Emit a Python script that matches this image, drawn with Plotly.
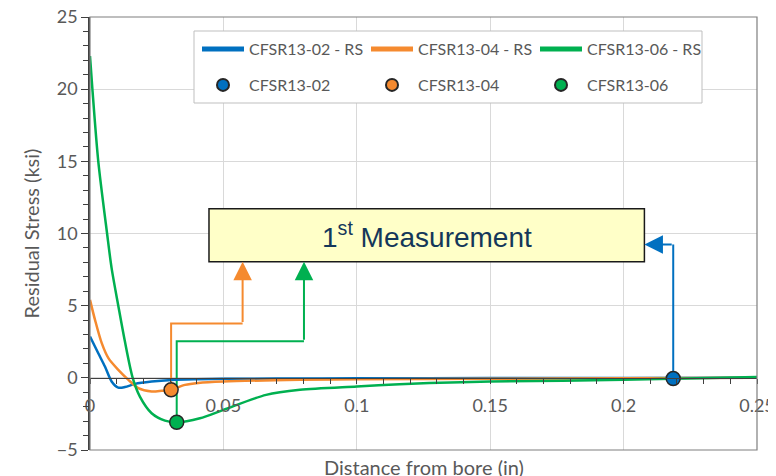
"""Residual stress vs distance from bore - CFSR13 specimens."""

import plotly.graph_objects as go

BLUE = "#0070C0"
ORANGE = "#F58A2F"
GREEN = "#00B050"
GRAY_TXT = "#595959"
FONT = "Lato, 'Open Sans', sans-serif"

# residual stress curves (in, ksi)
rs02_x = [0, 0.0031, 0.0056, 0.0081, 0.0106, 0.0131, 0.0169, 0.0231, 0.0306, 0.04, 0.05, 0.07, 0.1, 0.15, 0.2, 0.25]
rs02_y = [2.86, 1.7, 0.78, -0.25, -0.68, -0.64, -0.42, -0.26, -0.15, -0.1, -0.07, -0.05, -0.03, -0.02, -0.01, 0.0]

rs04_x = [0, 0.0019, 0.0044, 0.0069, 0.0106, 0.0144, 0.0181, 0.0231, 0.0269, 0.0304, 0.0356, 0.0406,
          0.05, 0.0787, 0.1, 0.15, 0.2, 0.25]
rs04_y = [5.4, 4.0, 2.4, 1.36, 0.55, -0.14, -0.71, -0.95, -0.9, -0.83, -0.49, -0.35,
          -0.25, -0.14, -0.1, -0.06, -0.03, 0.0]

rs06_x = [0, 0.0009, 0.0031, 0.0064, 0.0081, 0.0106, 0.013, 0.016, 0.0187, 0.0231, 0.0281, 0.0325,
          0.0412, 0.05, 0.066, 0.0787, 0.1, 0.116, 0.139, 0.15, 0.2, 0.25]
rs06_y = [22.3, 20, 15, 10, 7.6, 5, 2.6, 0, -1.3, -2.45, -2.96, -3.08,
          -2.8, -2.22, -1.18, -0.83, -0.6, -0.44, -0.3, -0.26, -0.14, 0.05]

# first measurement points
meas_names = ["CFSR13-02", "CFSR13-04", "CFSR13-06"]
meas_x = [0.2186, 0.0304, 0.0325]
meas_y = [-0.05, -0.83, -3.08]
colors = [BLUE, ORANGE, GREEN]

# callout box + connector elbows (data coords)
box = dict(x0=0.0446, x1=0.2078, y0=8.04, y1=11.71)
elbow_y = [9.24, 3.76, 2.54]
elbow_x = [None, 0.0572, 0.0802]

fig = go.Figure()

for name, xs, ys, c in [
    ("CFSR13-02 - RS", rs02_x, rs02_y, BLUE),
    ("CFSR13-04 - RS", rs04_x, rs04_y, ORANGE),
    ("CFSR13-06 - RS", rs06_x, rs06_y, GREEN),
]:
    fig.add_trace(go.Scatter(
        x=xs, y=ys, name=name, mode="lines",
        line=dict(color=c, width=2.5, shape="spline", smoothing=0.8),
        legend="legend",
    ))

for i in range(3):
    fig.add_trace(go.Scatter(
        x=[meas_x[i]], y=[meas_y[i]], name=meas_names[i], mode="markers",
        marker=dict(color=colors[i], size=14, line=dict(color="#262626", width=1.5)),
        legend="legend2",
    ))

# connectors
shapes = []
annotations = []
for i in range(3):
    mx, my, c = meas_x[i], meas_y[i], colors[i]
    if elbow_x[i] is None:
        path = f"M {mx},{my} L {mx},{elbow_y[i]}"
        tip = (box["x1"], elbow_y[i])
        tail = (mx, elbow_y[i])
    else:
        path = f"M {mx},{my} L {mx},{elbow_y[i]} L {elbow_x[i]},{elbow_y[i]}"
        tip = (elbow_x[i], box["y0"])
        tail = (elbow_x[i], elbow_y[i])
    shapes.append(dict(type="path", path=path, xref="x", yref="y",
                       line=dict(color=c, width=2), layer="between"))
    annotations.append(dict(
        x=tip[0], y=tip[1], ax=tail[0], ay=tail[1], xref="x", yref="y",
        axref="x", ayref="y", text="", showarrow=True, arrowhead=2,
        arrowsize=1.85, arrowwidth=2, arrowcolor=c, standoff=0,
    ))

shapes.append(dict(type="rect", xref="x", yref="y", **box,
                   fillcolor="#FFFFC8", line=dict(color="#1A1A1A", width=1.5)))
annotations.append(dict(
    x=(box["x0"] + box["x1"]) / 2, y=(box["y0"] + box["y1"]) / 2, xref="x", yref="y",
    text="1<sup>st</sup> Measurement", showarrow=False,
    font=dict(family="'Liberation Sans', Arial, sans-serif", size=28, color="#14375A"),
))

# legend frame
shapes.append(dict(type="rect", xref="paper", yref="paper",
                   x0=(194 - 90) / 667, x1=(702 - 90) / 667,
                   y0=(450 - 103) / 433, y1=(450 - 31) / 433,
                   fillcolor="white", line=dict(color="#BFBFBF", width=1), layer="above"))

# plot frame
shapes.append(dict(type="rect", xref="paper", yref="paper", x0=0, x1=1, y0=0, y1=1,
                   line=dict(color="#7F7F7F", width=1.2), layer="above"))

annotations.append(dict(
    x=0.5, y=-0.006, xref="paper", yref="paper", yanchor="top",
    text="Distance from bore (in)", showarrow=False,
    font=dict(family=FONT, size=20, color=GRAY_TXT),
))

leg_common = dict(
    orientation="h", xanchor="left", yanchor="middle",
    bgcolor="rgba(0,0,0,0)", borderwidth=0,
    font=dict(family=FONT, size=16, color=GRAY_TXT),
    itemwidth=42, entrywidth=112, entrywidthmode="pixels", itemsizing="constant",
)

# page body adds ~8px offset, margins compensate so plot sits at x 90-757, y 17-450
fig.update_layout(
    width=776, height=476,
    margin=dict(l=82, r=27, t=9, b=34),
    plot_bgcolor="white", paper_bgcolor="white",
    font=dict(family=FONT, color=GRAY_TXT),
    showlegend=True,
    legend=dict(**leg_common, x=(197 - 90) / 667, y=(450 - 49) / 433),
    legend2=dict(**leg_common, x=(197 - 90) / 667, y=(450 - 85) / 433),
    shapes=shapes,
    annotations=annotations,
    xaxis=dict(
        range=[0, 0.25], dtick=0.05, tickformat="~g",
        anchor="free", position=5 / 30, automargin=False,
        showline=True, linecolor="#404040", linewidth=1.2,
        showgrid=True, gridcolor="#D9D9D9", gridwidth=1,
        zeroline=False,
        ticks="outside", ticklen=5, tickcolor="#404040",
        minor=dict(dtick=0.01, ticks="outside", ticklen=5, tickcolor="#404040", showgrid=False),
        tickfont=dict(family=FONT, size=18, color=GRAY_TXT),
        ticklabelstandoff=6, ticklabeloverflow="allow",
    ),
    yaxis=dict(
        range=[-5, 25], dtick=5, automargin=False,
        showline=True, linecolor="#404040", linewidth=1.5,
        showgrid=True, gridcolor="#D9D9D9", gridwidth=1,
        zeroline=False,
        ticks="outside", ticklen=7, tickcolor="#404040",
        minor=dict(dtick=1, ticks="outside", ticklen=5, tickcolor="#404040", showgrid=False),
        tickfont=dict(family=FONT, size=18, color=GRAY_TXT),
        ticklabeloverflow="allow",
        title=dict(text="Residual Stress (ksi)", font=dict(family=FONT, size=20, color=GRAY_TXT),
                   standoff=12),
    ),
)

fig.write_html("out.html")
